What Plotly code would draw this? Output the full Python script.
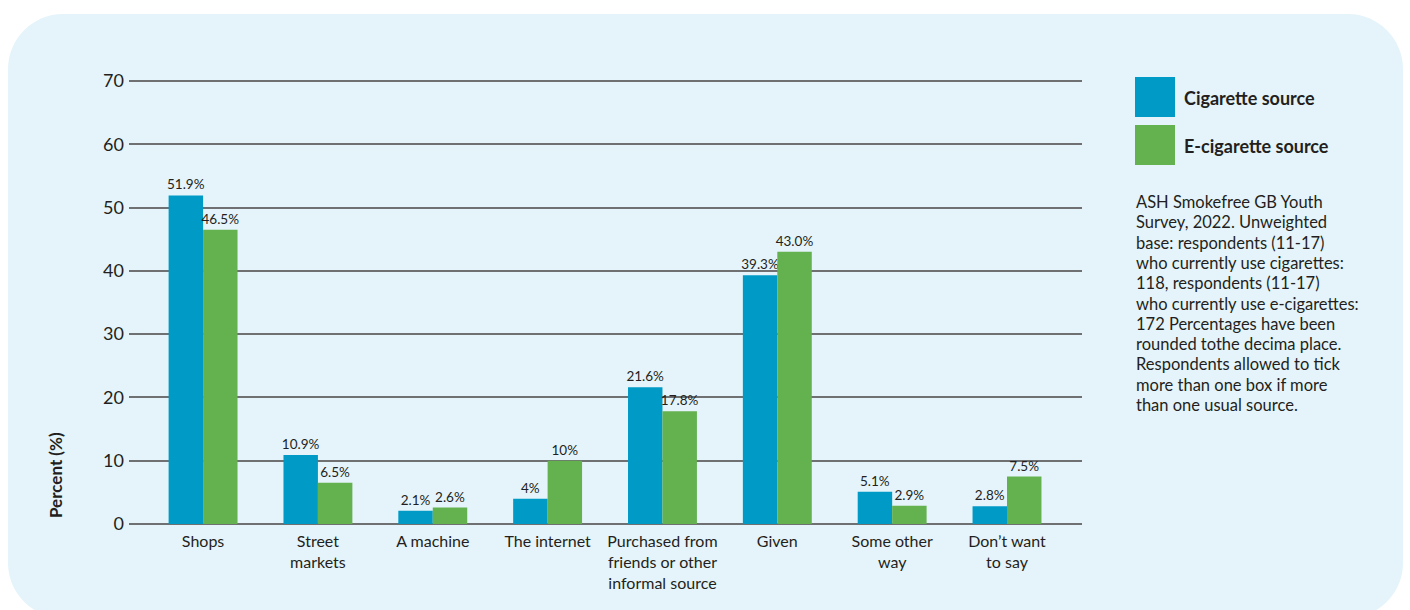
import plotly.graph_objects as go

# Sources of cigarettes / e-cigarettes among 11-17 year olds
categories = [
    "Shops",
    "Street<br>markets",
    "A machine",
    "The internet",
    "Purchased from<br>friends or other<br>informal source",
    "Given",
    "Some other<br>way",
    "Don\u2019t want<br>to say",
]
cigarette_values = [51.9, 10.9, 2.1, 4, 21.6, 39.3, 5.1, 2.8]
ecigarette_values = [46.5, 6.5, 2.6, 10, 17.8, 43.0, 2.9, 7.5]
cigarette_labels = ["51.9%", "10.9%", "2.1%", "4%", "21.6%", "39.3%", "5.1%", "2.8%"]
ecigarette_labels = ["46.5%", "6.5%", "2.6%", "10%", "17.8%", "43.0%", "2.9%", "7.5%"]
y_ticks = [0, 10, 20, 30, 40, 50, 60, 70]

series_names = ["Cigarette source", "E-cigarette source"]
note_lines = [
    "ASH Smokefree GB Youth",
    "Survey, 2022. Unweighted",
    "base: respondents (11-17)",
    "who currently use cigarettes:",
    "118, respondents (11-17)",
    "who currently use e-cigarettes:",
    "172 Percentages have been",
    "rounded tothe decima place.",
    "Respondents allowed to tick",
    "more than one box if more",
    "than one usual source.",
]

BLUE = "#009AC6"
GREEN = "#64B150"
PANEL = "#E5F4FA"
TEXT = "#231F20"
GRID = "#6E7072"
FONT = "Lato, 'Noto Sans', sans-serif"

W, H = 1410, 610
M_L, M_R, M_T, M_B = 129, 328, 79, 86
PW = W - M_L - M_R
PH = H - M_T - M_B


def fx(px):
    return (px - M_L) / PW


def fy(py):
    return (H - M_B - py) / PH


fig = go.Figure()
fig.add_trace(go.Bar(
    x=categories, y=cigarette_values, name=series_names[0],
    marker=dict(color=BLUE, line=dict(width=0)),
    text=cigarette_labels, texttemplate="%{text}", textposition="outside",
    constraintext="none",
    textfont=dict(size=13.5, color=TEXT, family=FONT), cliponaxis=False,
))
fig.add_trace(go.Bar(
    x=categories, y=ecigarette_values, name=series_names[1],
    marker=dict(color=GREEN, line=dict(width=0)),
    text=ecigarette_labels, texttemplate="%{text}", textposition="outside",
    constraintext="none",
    textfont=dict(size=13.5, color=TEXT, family=FONT), cliponaxis=False,
))

# Rounded background panel
x0, x1, y0, y1, r = 8, 1403, 14, 618, 55
k = 0.45
path = (
    f"M {fx(x0 + r)},{fy(y0)} L {fx(x1 - r)},{fy(y0)} "
    f"C {fx(x1 - r * k)},{fy(y0)} {fx(x1)},{fy(y0 + r * k)} {fx(x1)},{fy(y0 + r)} "
    f"L {fx(x1)},{fy(y1 - r)} "
    f"C {fx(x1)},{fy(y1 - r * k)} {fx(x1 - r * k)},{fy(y1)} {fx(x1 - r)},{fy(y1)} "
    f"L {fx(x0 + r)},{fy(y1)} "
    f"C {fx(x0 + r * k)},{fy(y1)} {fx(x0)},{fy(y1 - r * k)} {fx(x0)},{fy(y1 - r)} "
    f"L {fx(x0)},{fy(y0 + r)} "
    f"C {fx(x0)},{fy(y0 + r * k)} {fx(x0 + r * k)},{fy(y0)} {fx(x0 + r)},{fy(y0)} Z"
)
shapes = [dict(type="path", path=path, xref="paper", yref="paper",
               fillcolor=PANEL, line=dict(width=0), layer="below")]

# Legend keys
for i, color in enumerate([BLUE, GREEN]):
    top = 77 + i * 48
    shapes.append(dict(type="rect", xref="paper", yref="paper",
                       x0=fx(1135), x1=fx(1175), y0=fy(top + 40), y1=fy(top),
                       fillcolor=color, line=dict(width=0)))

annotations = []
for i, name in enumerate(series_names):
    annotations.append(dict(
        text=f"<b>{name}</b>", x=fx(1182), y=fy(98 + i * 48),
        xref="paper", yref="paper", xanchor="left", yanchor="middle",
        showarrow=False, font=dict(size=18, color=TEXT, family=FONT),
    ))

# Source note, one annotation per line
for i, line in enumerate(note_lines):
    annotations.append(dict(
        text=line, x=fx(1134), y=fy(202 + i * 20.3), xref="paper", yref="paper",
        xanchor="left", yanchor="middle", align="left", showarrow=False,
        font=dict(size=16.5, color=TEXT, family=FONT),
    ))

annotations.append(dict(
    text="<b>Percent (%)</b>", x=fx(55), y=fy(475), xref="paper", yref="paper",
    xanchor="center", yanchor="middle", textangle=-90, showarrow=False,
    font=dict(size=17, color=TEXT, family=FONT),
))

fig.update_layout(
    width=W, height=H,
    margin=dict(l=M_L, r=M_R, t=M_T, b=M_B),
    paper_bgcolor="white", plot_bgcolor="rgba(0,0,0,0)",
    barmode="group", bargap=0.40, bargroupgap=0,
    showlegend=False, uniformtext=dict(mode=False),
    shapes=shapes, annotations=annotations,
    font=dict(family=FONT, color=TEXT),
    xaxis=dict(
        type="category", range=[-0.645, 7.653], showgrid=False, showline=False,
        ticks="", ticklabelstandoff=6,
        tickfont=dict(size=16, color=TEXT, family=FONT),
        fixedrange=True,
    ),
    yaxis=dict(
        range=[0, 70.3], tickvals=y_ticks, showgrid=True, gridcolor=GRID,
        gridwidth=1.5, zeroline=True, zerolinecolor=GRID, zerolinewidth=1.5,
        showline=False, ticks="", ticklabelstandoff=4,
        tickfont=dict(size=18, color=TEXT, family=FONT),
        fixedrange=True,
    ),
)

fig.write_html("out.html")
